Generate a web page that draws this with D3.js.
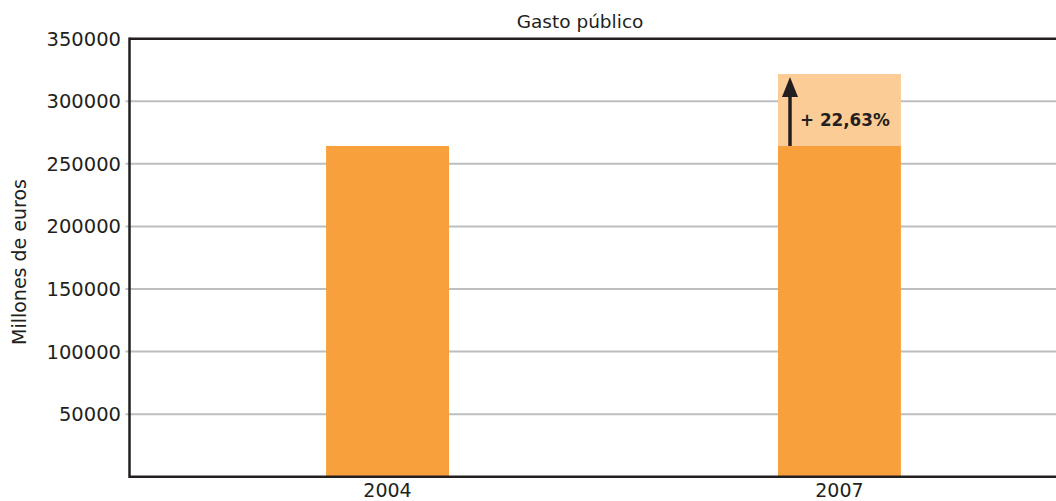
<!DOCTYPE html>
<html>
<head>
<meta charset="utf-8">
<script src="https://cdn.jsdelivr.net/npm/d3@7"></script>
<style>
  html, body { margin: 0; padding: 0; background: #fff; }
  svg { display: block; }
  text { font-family: "DejaVu Sans", "Liberation Sans", Arial, sans-serif; fill: #231F20; }
</style>
</head>
<body>
<svg id="chart" width="1056" height="501"></svg>
<script>
const categories = ["2004", "2007"];
const baseValues = [264300, 264300];
const totalValues = [264300, 321800];
const yTicks = [50000, 100000, 150000, 200000, 250000, 300000, 350000];
const title = "Gasto público";
const yLabel = "Millones de euros";
const increaseLabel = "+ 22,63%";

const svg = d3.select("#chart");
const W = 1056, H = 501;
const plotLeft = 129.5, plotTop = 38.7, plotBottom = 476.7;

const y = d3.scaleLinear().domain([0, 350000]).range([plotBottom, plotTop]);
const x = d3.scaleBand().domain(categories).range([plotLeft, 1097.5])
  .paddingInner(0.728).paddingOuter(0.435);

// gridlines
svg.append("g").selectAll("line").data(yTicks.filter(d => d < 350000)).join("line")
  .attr("x1", plotLeft - 4).attr("x2", W)
  .attr("y1", d => y(d)).attr("y2", d => y(d))
  .attr("stroke", "#BCBEC0").attr("stroke-width", 2);

// light (increase) part
svg.append("g").selectAll("rect").data(categories).join("rect")
  .attr("x", d => x(d)).attr("width", x.bandwidth())
  .attr("y", (d, i) => y(totalValues[i]))
  .attr("height", (d, i) => y(baseValues[i]) - y(totalValues[i]))
  .attr("fill", "#FBCC95");

// base part
svg.append("g").selectAll("rect").data(categories).join("rect")
  .attr("x", d => x(d)).attr("width", x.bandwidth())
  .attr("y", (d, i) => y(baseValues[i]))
  .attr("height", (d, i) => plotBottom - y(baseValues[i]))
  .attr("fill", "#F8A13C");

// frame: top, left, bottom
svg.append("line").attr("x1", plotLeft).attr("x2", W).attr("y1", plotTop).attr("y2", plotTop)
  .attr("stroke", "#231F20").attr("stroke-width", 2.5);
svg.append("line").attr("x1", plotLeft).attr("x2", W).attr("y1", plotBottom).attr("y2", plotBottom)
  .attr("stroke", "#231F20").attr("stroke-width", 2.5);
svg.append("line").attr("x1", plotLeft).attr("x2", plotLeft).attr("y1", plotTop - 1.25).attr("y2", plotBottom + 1.25)
  .attr("stroke", "#231F20").attr("stroke-width", 2.5);

// y tick labels
svg.append("g").selectAll("text").data(yTicks).join("text")
  .attr("x", 121).attr("y", d => y(d))
  .attr("dy", "0.36em")
  .attr("text-anchor", "end")
  .attr("font-size", 19.5)
  .text(d => d);

// x labels
svg.append("g").selectAll("text").data(categories).join("text")
  .attr("x", d => x(d) + x.bandwidth() / 2).attr("y", 497)
  .attr("text-anchor", "middle")
  .attr("font-size", 19)
  .text(d => d);

// title
svg.append("text").attr("x", 580).attr("y", 28).attr("text-anchor", "middle")
  .attr("font-size", 18.5).text(title);

// y axis label
svg.append("text").attr("transform", "translate(26,262) rotate(-90)")
  .attr("text-anchor", "middle").attr("font-size", 19).text(yLabel);

// arrow for increase
const c = categories[1], i1 = 1;
const ax = x(c) + 12;
const yBase = y(baseValues[i1]), yTopV = y(totalValues[i1]);
svg.append("line").attr("x1", ax).attr("x2", ax).attr("y1", yBase).attr("y2", yTopV + 16)
  .attr("stroke", "#231F20").attr("stroke-width", 3.5);
svg.append("path")
  .attr("d", `M${ax},${yTopV + 3} L${ax - 8},${yTopV + 23} L${ax + 8},${yTopV + 23} Z`)
  .attr("fill", "#231F20");
svg.append("text").attr("x", ax + 10).attr("y", (yBase + yTopV) / 2 + 16)
  .attr("font-size", 16.8).attr("font-weight", "bold").text(increaseLabel);
</script>
</body>
</html>
